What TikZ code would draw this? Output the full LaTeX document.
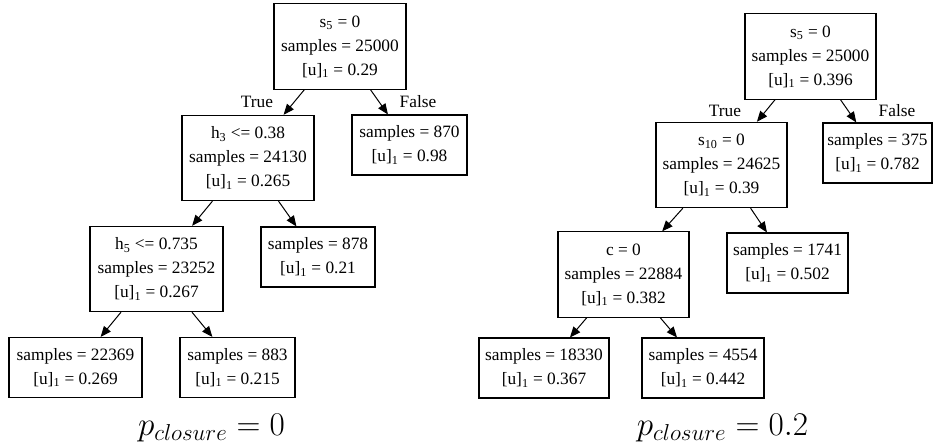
\documentclass[tikz,border=0pt]{standalone}
\usepackage{fontspec}
\setmainfont{Liberation Serif}
\usetikzlibrary{arrows.meta}
\begin{document}
\begin{tikzpicture}[x=0.75pt,y=-0.75pt,
  tbox/.style={draw,line width=0.8pt,inner sep=0pt,align=center,
    font=\fontsize{13}{18}\selectfont},
  three/.style={tbox,minimum height=64pt},
  two/.style={tbox,minimum height=45pt},
  edge/.style={line width=0.75pt,-{Triangle[length=8pt,width=6.5pt]}},
  elab/.style={font=\fontsize{13}{16}\selectfont,inner sep=0pt},
  plab/.style={anchor=base,inner sep=0pt,font=\fontsize{23.5}{28}\selectfont}]
\useasboundingbox (0,0) rectangle (933,448);
% left tree
\node[three,minimum width=99pt] (L0) at (340,46.5) {s\textsubscript{5} = 0\\samples = 25000\\{[u]}\textsubscript{1} = 0.29};
\node[three,minimum width=99pt] (L1) at (248,158) {h\textsubscript{3} <= 0.38\\samples = 24130\\{[u]}\textsubscript{1} = 0.265};
\node[two,minimum width=86.25pt] (L2) at (409.5,145) {samples = 870\\{[u]}\textsubscript{1} = 0.98};
\node[three,minimum width=99.75pt] (L3) at (156.5,269) {h\textsubscript{5} <= 0.735\\samples = 23252\\{[u]}\textsubscript{1} = 0.267};
\node[two,minimum width=85.5pt] (L4) at (318,257) {samples = 878\\{[u]}\textsubscript{1} = 0.21};
\node[two,minimum width=99.75pt] (L5) at (75.5,367.5) {samples = 22369\\{[u]}\textsubscript{1} = 0.269};
\node[two,minimum width=86.25pt] (L6) at (237.5,367.5) {samples = 883\\{[u]}\textsubscript{1} = 0.215};
\draw[edge] (L0) -- (L1);
\draw[edge] (L0) -- (L2);
\draw[edge] (L1) -- (L3);
\draw[edge] (L1) -- (L4);
\draw[edge] (L3) -- (L5);
\draw[edge] (L3) -- (L6);
\node[elab] (LT) at (257,102) {True};
\node[elab] (LF) at (418,102) {False};
\node[plab] (LP) at (211.5,436) {$p_{closure} = 0$};
% right tree
\node[three,minimum width=98.25pt] (R0) at (810.5,56.5) {s\textsubscript{5} = 0\\samples = 25000\\{[u]}\textsubscript{1} = 0.396};
\node[three,minimum width=98.25pt] (R1) at (721.5,165) {s\textsubscript{10} = 0\\samples = 24625\\{[u]}\textsubscript{1} = 0.39};
\node[two,minimum width=81.75pt] (R2) at (877.5,153) {samples = 375\\{[u]}\textsubscript{1} = 0.782};
\node[three,minimum width=98.25pt] (R3) at (623.5,274.5) {c = 0\\samples = 22884\\{[u]}\textsubscript{1} = 0.382};
\node[two,minimum width=90.75pt] (R4) at (787.5,263) {samples = 1741\\{[u]}\textsubscript{1} = 0.502};
\node[two,minimum width=97.5pt] (R5) at (544,368) {samples = 18330\\{[u]}\textsubscript{1} = 0.367};
\node[two,minimum width=91.5pt] (R6) at (703,368) {samples = 4554\\{[u]}\textsubscript{1} = 0.442};
\draw[edge] (R0) -- (R1);
\draw[edge] (R0) -- (R2);
\draw[edge] (R1) -- (R3);
\draw[edge] (R1) -- (R4);
\draw[edge] (R3) -- (R5);
\draw[edge] (R3) -- (R6);
\node[elab] (RT) at (725,111) {True};
\node[elab] (RF) at (897,111) {False};
\node[plab] (RP) at (722.5,436) {$p_{closure} = 0.2$};
\end{tikzpicture}
\end{document}
